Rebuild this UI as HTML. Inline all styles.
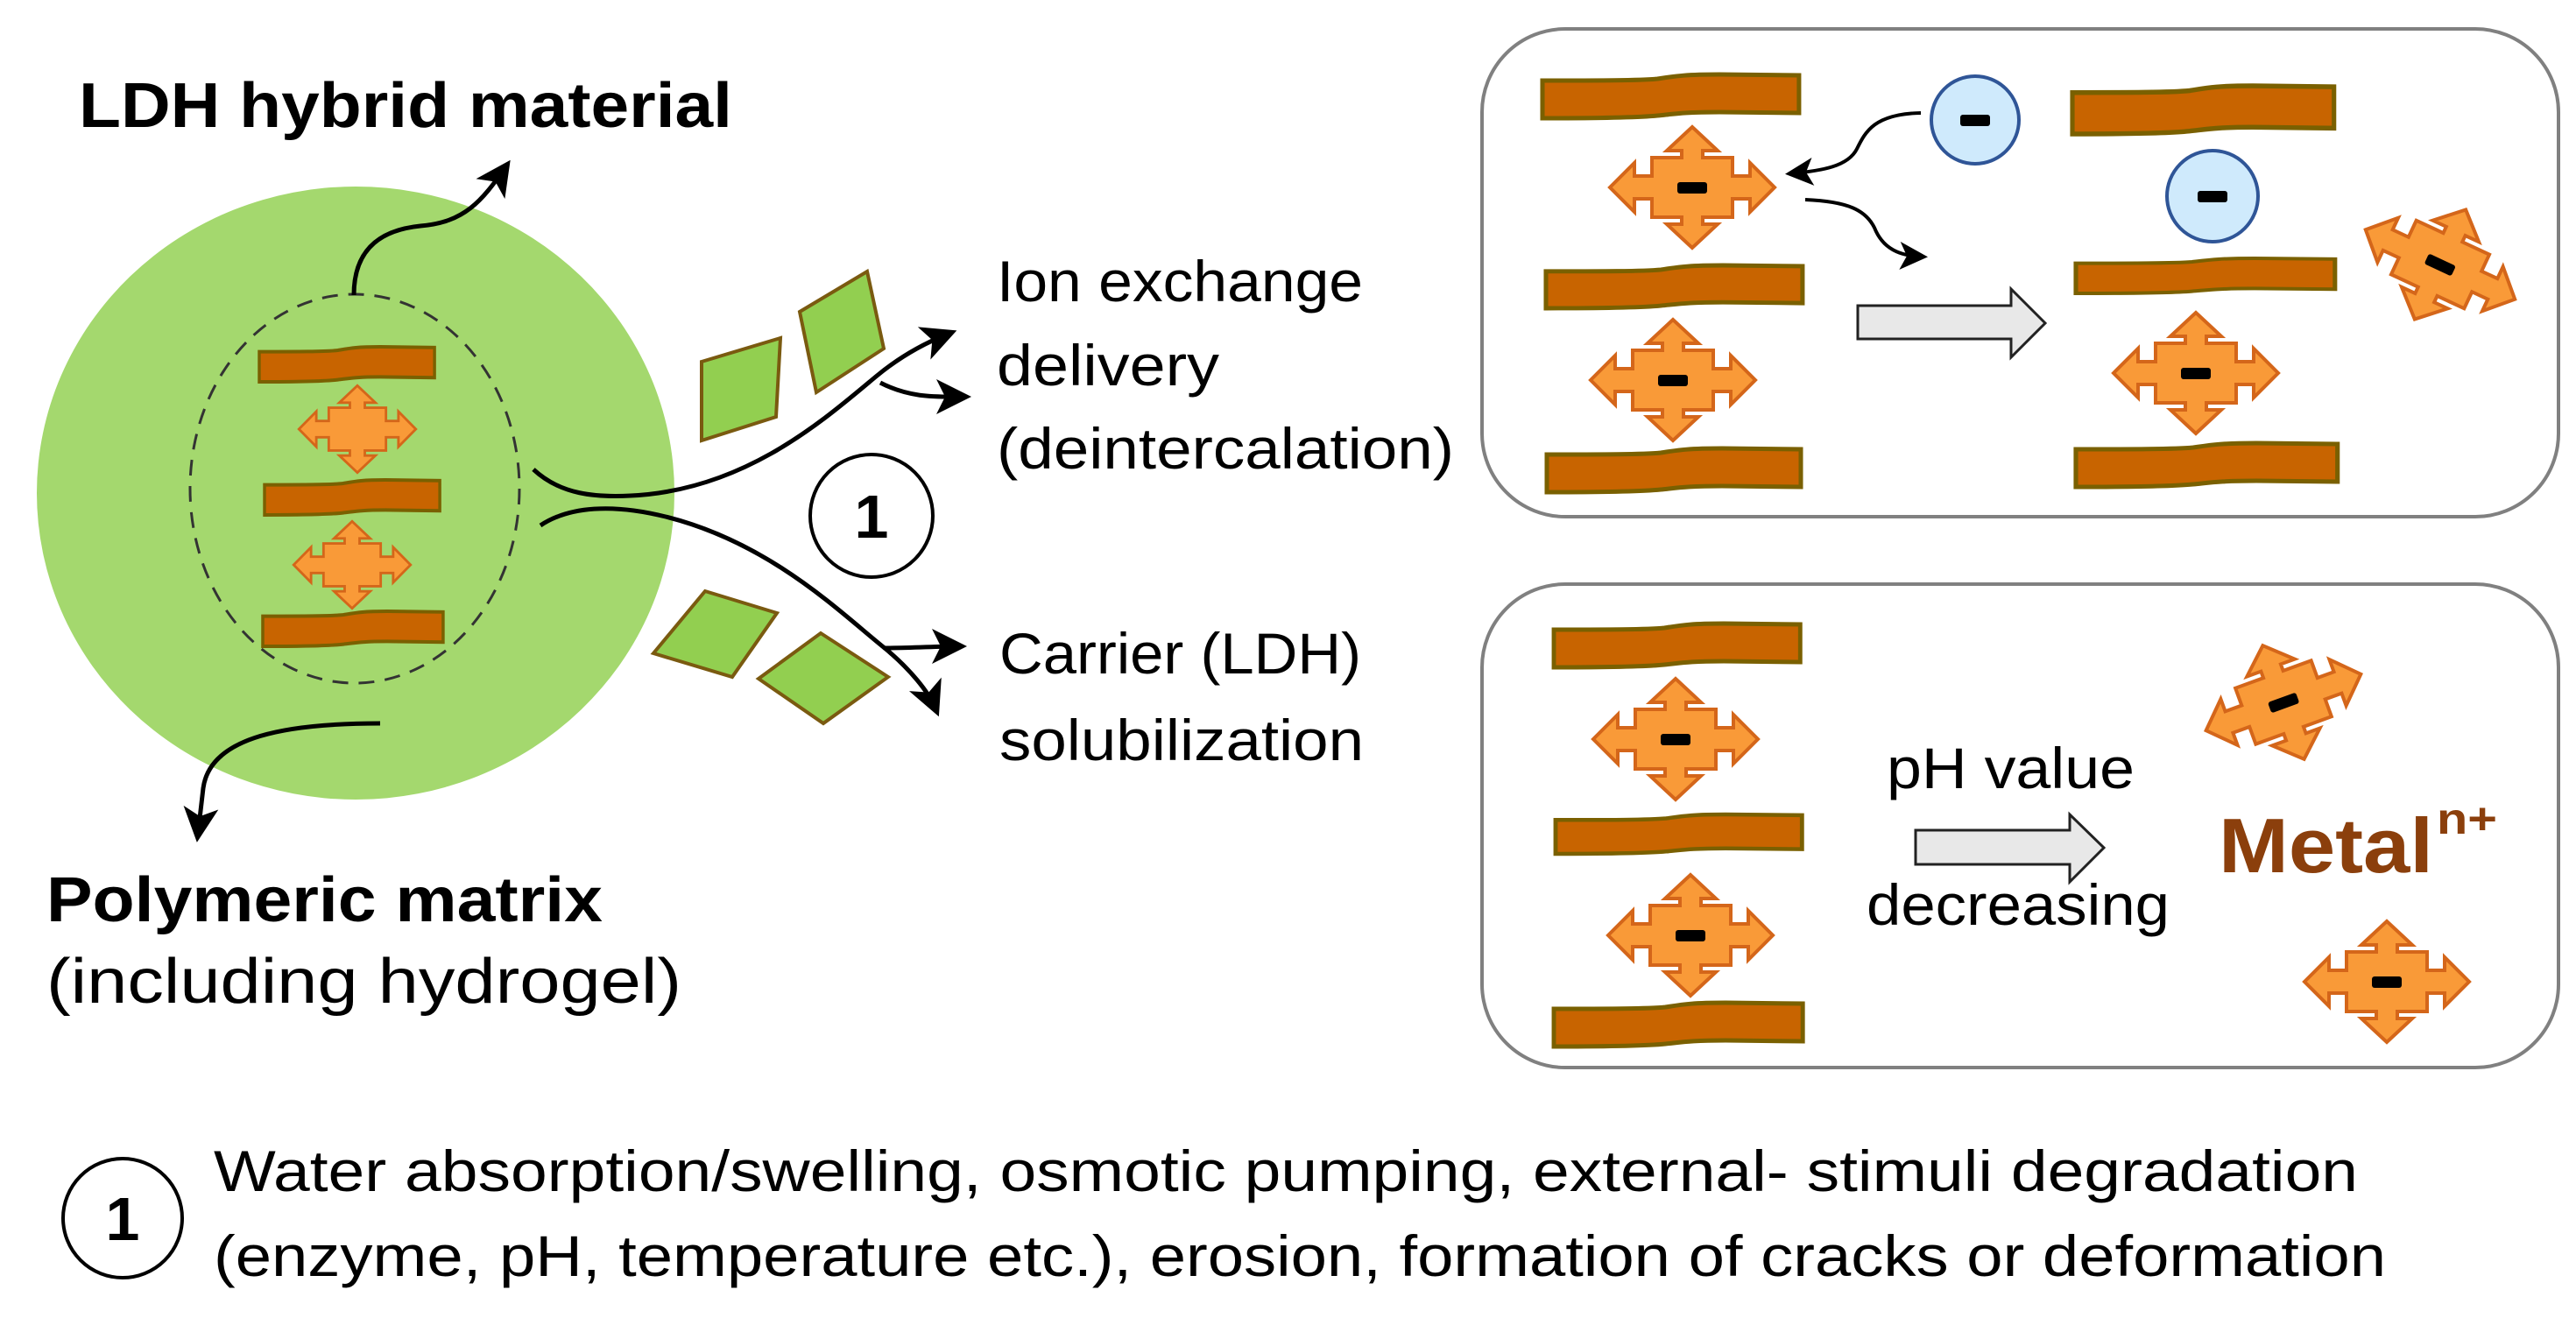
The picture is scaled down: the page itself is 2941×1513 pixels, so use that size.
<!DOCTYPE html>
<html><head><meta charset="utf-8"><style>html,body{margin:0;padding:0;background:#fff}svg{display:block}</style></head>
<body>
<svg width="2941" height="1513" viewBox="0 0 2941 1513" xmlns="http://www.w3.org/2000/svg" font-family="Liberation Sans, sans-serif">
<defs>
<marker id="ah" markerWidth="8" markerHeight="8" refX="6" refY="4" orient="auto" markerUnits="strokeWidth"><path d="M0,0 L8,4 L0,8 L2,4 Z" fill="#000"/></marker>
<path id="cr" d="M -94,0 L -66,-28 L -66,-13 L -46,-13 L -46,-34 L -12,-34 L -12,-42 L -29,-42 L 0,-69 L 29,-42 L 12,-42 L 12,-34 L 46,-34 L 46,-13 L 66,-13 L 66,-28 L 94,0 L 66,28 L 66,13 L 46,13 L 46,34 L 12,34 L 12,42 L 29,42 L 0,69 L -29,42 L -12,42 L -12,34 L -46,34 L -46,13 L -66,13 L -66,28 Z" fill="#f99a38" stroke="#d4661a" stroke-width="4"/>
<g id="crm"><use href="#cr"/><rect x="-17" y="-6" width="34" height="13" rx="3" fill="#000"/></g>
<path id="bar" d="M0,7 C60,7 110,7 130,5 C150,2 160,0 200,0 L290,1 L290,44 L200,43 C160,43 150,45 130,47 C110,49 60,50 0,50 Z" fill="#c86400" stroke="#7a6000" stroke-width="5"/>
</defs>

<!-- polymer sphere -->
<ellipse cx="406" cy="563" rx="364" ry="350" fill="#a4d86e"/>
<ellipse cx="405" cy="558" rx="188" ry="222" fill="none" stroke="#333" stroke-width="3" stroke-dasharray="18,12"/>
<g transform="translate(296,396) scale(0.69,0.8)"><use href="#bar"/></g>
<g transform="translate(302,548) scale(0.69,0.8)"><use href="#bar"/></g>
<g transform="translate(300,698) scale(0.71,0.8)"><use href="#bar"/></g>
<g transform="translate(408,490) scale(0.71,0.72)"><use href="#cr"/></g>
<g transform="translate(402,645) scale(0.71,0.72)"><use href="#cr"/></g>

<path d="M404,337 C404,280 440,262 480,258 C530,254 550,230 577,191" fill="none" stroke="#000" stroke-width="5" marker-end="url(#ah)"/>
<path d="M434,826 C330,826 240,840 232,900 L226,952" fill="none" stroke="#000" stroke-width="5" marker-end="url(#ah)"/>

<!-- flakes -->
<polygon points="801,413 891,386 886,476 801,503" fill="#92cf50" stroke="#7a5a10" stroke-width="4"/>
<polygon points="913,356 990,310 1009,398 932,448" fill="#92cf50" stroke="#7a5a10" stroke-width="4"/>
<polygon points="746,746 805,675 887,700 836,773" fill="#92cf50" stroke="#7a5a10" stroke-width="4"/>
<polygon points="866,775 937,723 1014,773 940,826" fill="#92cf50" stroke="#7a5a10" stroke-width="4"/>

<!-- fork arrows -->
<path d="M609,536 C640,565 680,568 720,566 C850,560 940,480 1000,430 C1030,405 1060,390 1083,381" fill="none" stroke="#000" stroke-width="5" marker-end="url(#ah)"/>
<path d="M1005,437 C1040,455 1070,453 1099,453" fill="none" stroke="#000" stroke-width="5" marker-end="url(#ah)"/>
<path d="M617,600 C650,578 700,575 760,590 C880,620 960,700 1010,740 C1040,740 1070,738 1094,738" fill="none" stroke="#000" stroke-width="5" marker-end="url(#ah)"/>
<path d="M1010,740 C1040,765 1060,790 1068,809" fill="none" stroke="#000" stroke-width="5" marker-end="url(#ah)"/>
<circle cx="995" cy="589" r="70" fill="#fff" stroke="#000" stroke-width="4"/>
<text x="995" y="614" font-size="70" font-weight="bold" text-anchor="middle">1</text>

<!-- texts left -->
<text x="90" y="145" font-size="72" font-weight="bold" textLength="746" lengthAdjust="spacingAndGlyphs">LDH hybrid material</text>
<text x="53" y="1052" font-size="72" font-weight="bold" textLength="635" lengthAdjust="spacingAndGlyphs">Polymeric matrix</text>
<text x="53" y="1145" font-size="72" textLength="725" lengthAdjust="spacingAndGlyphs">(including hydrogel)</text>
<g font-size="66">
<text x="1138" y="344" textLength="418" lengthAdjust="spacingAndGlyphs">Ion exchange</text>
<text x="1138" y="440" textLength="254" lengthAdjust="spacingAndGlyphs">delivery</text>
<text x="1138" y="535" textLength="522" lengthAdjust="spacingAndGlyphs">(deintercalation)</text>
<text x="1141" y="769" textLength="413" lengthAdjust="spacingAndGlyphs">Carrier (LDH)</text>
<text x="1141" y="868" textLength="416" lengthAdjust="spacingAndGlyphs">solubilization</text>
</g>

<!-- top box -->
<rect x="1692" y="33" width="1229" height="557" rx="95" fill="#fff" stroke="#808080" stroke-width="4"/>
<g transform="translate(1761,85) scale(1.01,1.0)"><use href="#bar"/></g>
<g transform="translate(1765,303) scale(1.01,0.98)"><use href="#bar"/></g>
<g transform="translate(1766,512) scale(1.0,1.0)"><use href="#bar"/></g>
<g transform="translate(2366,98) scale(1.03,1.1)"><use href="#bar"/></g>
<g transform="translate(2370,295) scale(1.02,0.8)"><use href="#bar"/></g>
<g transform="translate(2370,506) scale(1.03,1.0)"><use href="#bar"/></g>
<g transform="translate(1932,214)"><use href="#crm"/></g>
<g transform="translate(1910,434)"><use href="#crm"/></g>
<g transform="translate(2507,426)"><use href="#crm"/></g>
<g transform="translate(2786,302) rotate(25)"><use href="#crm"/></g>
<circle cx="2255" cy="137" r="50" fill="#cfeafc" stroke="#2f5597" stroke-width="4"/>
<rect x="2238" y="131" width="34" height="13" rx="3"/>
<circle cx="2526" cy="224" r="52" fill="#cfeafc" stroke="#2f5597" stroke-width="4"/>
<rect x="2509" y="218" width="34" height="13" rx="3"/>
<path d="M2193,129 C2140,130 2130,150 2120,170 C2110,190 2080,195 2046,198" fill="none" stroke="#000" stroke-width="4" marker-end="url(#ah)"/>
<path d="M2061,228 C2110,230 2130,240 2140,260 C2150,285 2170,292 2193,293" fill="none" stroke="#000" stroke-width="4" marker-end="url(#ah)"/>
<polygon points="2121,349 2296,349 2296,330 2335,369 2296,408 2296,387 2121,387" fill="#e8e8e8" stroke="#222" stroke-width="3"/>

<!-- bottom box -->
<rect x="1692" y="667" width="1229" height="552" rx="95" fill="#fff" stroke="#808080" stroke-width="4"/>
<g transform="translate(0,-14)">
<g transform="translate(1774,726) scale(0.97,1.0)"><use href="#bar"/></g>
<g transform="translate(1776,944) scale(0.97,0.9)"><use href="#bar"/></g>
<g transform="translate(1774,1159) scale(0.98,1.0)"><use href="#bar"/></g>
<g transform="translate(1913,858)"><use href="#crm"/></g>
<g transform="translate(1930,1082)"><use href="#crm"/></g>
<g transform="translate(2607,816) rotate(-20)"><use href="#crm"/></g>
<g transform="translate(2725,1135)"><use href="#crm"/></g>
<polygon points="2187,962 2363,962 2363,944 2402,982 2363,1021 2363,1001 2187,1001" fill="#e8e8e8" stroke="#222" stroke-width="3"/>
<text x="2154" y="914" font-size="66" textLength="283" lengthAdjust="spacingAndGlyphs">pH value</text>
<text x="2131" y="1070" font-size="66" textLength="346" lengthAdjust="spacingAndGlyphs">decreasing</text>
<text x="2533" y="1010" font-size="88" font-weight="bold" fill="#8b3f0c" textLength="245" lengthAdjust="spacingAndGlyphs">Metal</text>
<text x="2782" y="966" font-size="50" font-weight="bold" fill="#8b3f0c" textLength="69" lengthAdjust="spacingAndGlyphs">n+</text>
</g>

<!-- legend -->
<circle cx="140" cy="1391" r="68" fill="#fff" stroke="#000" stroke-width="4"/>
<text x="140" y="1416" font-size="70" font-weight="bold" text-anchor="middle">1</text>
<text x="244" y="1360" font-size="66" textLength="2448" lengthAdjust="spacingAndGlyphs">Water absorption/swelling, osmotic pumping, external- stimuli degradation</text>
<text x="244" y="1457" font-size="66" textLength="2480" lengthAdjust="spacingAndGlyphs">(enzyme, pH, temperature etc.), erosion, formation of cracks or deformation</text>
</svg>
</body></html>
